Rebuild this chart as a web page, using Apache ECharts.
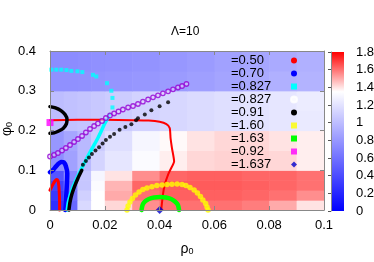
<!DOCTYPE html>
<html><head><meta charset="utf-8">
<script src="https://cdn.jsdelivr.net/npm/echarts@6/dist/echarts.min.js"></script>
<style>html,body{margin:0;padding:0;background:#fff}#c{width:374px;height:262px}</style>
</head><body><div id="c"></div>
<script>
// ---- background map (values read from the colour field) ----
const X_EDGES = [0,0.005,0.01,0.015,0.02,0.03,0.04,0.05,0.06,0.07,0.08,0.09,0.1];
const Y_EDGES = [0,0.025,0.05,0.075,0.1,0.15,0.2,0.25,0.3,0.35,0.4];
const HEAT = [
  [0.25,0.55,1.15,1.35,1.42,1.55,1.6,1.6,1.6,1.58,1.5,1.4],
  [0.3,0.6,1.1,1.35,1.5,1.6,1.63,1.63,1.63,1.62,1.6,1.55],
  [0.35,0.65,1.05,1.33,1.48,1.62,1.64,1.64,1.64,1.63,1.62,1.6],
  [0.45,0.72,1.05,1.3,1.4,1.55,1.62,1.63,1.63,1.62,1.62,1.6],
  [0.75,0.85,0.98,1.12,1.22,1.33,1.38,1.42,1.43,1.43,1.42,1.38],
  [0.8,0.88,0.98,1.08,1.18,1.3,1.36,1.4,1.42,1.42,1.4,1.38],
  [1.0,1.02,1.04,1.06,1.08,1.11,1.14,1.16,1.18,1.2,1.22,1.24],
  [1.0,1.02,1.04,1.06,1.08,1.11,1.14,1.16,1.18,1.2,1.22,1.25],
  [0.76,0.76,0.77,0.78,0.79,0.8,0.82,0.84,0.87,0.9,0.93,0.95],
  [0.74,0.74,0.75,0.76,0.77,0.78,0.8,0.82,0.85,0.88,0.9,0.93]
];
const CB_MIN = 0, CB_MAX = 1.8;

// ---- curves ----
const LABELS = ['=0.50','=0.70','=0.827','=0.827','=0.91','=1.60','=1.63','=0.92','=1.637'];
const RED_HOOK = [[0,0.05],[0.0006,0.058],[0.0012,0.066],[0.0018,0.073],[0.0024,0.077],[0.0029,0.074],[0.0032,0.062],[0.0034,0.042],[0.0035,0.02],[0.0035,0]];
const RED_LINE = [[0,0.226],[0.01,0.227],[0.02,0.227],[0.03,0.226],[0.036,0.225],[0.04,0.222],[0.0425,0.216],[0.0437,0.206],[0.044,0.181],[0.0445,0.156],[0.0453,0.122],[0.0442,0.105],[0.0431,0.089],[0.0419,0.064],[0.0412,0.038],[0.0406,0]];
const BLUE = [[0,0.095],[0.001,0.1],[0.002,0.108],[0.003,0.116],[0.004,0.121],[0.005,0.12],[0.0058,0.11],[0.0063,0.092],[0.0062,0.07],[0.006,0.045],[0.0058,0.02],[0.0056,0]];
const CYAN_DENSE = [[0.0063,0],[0.0067,0.02],[0.0075,0.04],[0.0085,0.06],[0.0098,0.08],[0.0112,0.1],[0.0127,0.12],[0.0142,0.14],[0.0158,0.16],[0.0174,0.18],[0.0188,0.2],[0.0198,0.215],[0.0208,0.228],[0.0218,0.24]];
const CYAN_DOTS = [[0.0228,0.258],[0.0228,0.282],[0.0224,0.3],[0.0208,0.319],[0.0169,0.336],[0.0157,0.34],[0.0118,0.347],[0.01,0.349],[0.0078,0.35],[0.006,0.352],[0.0041,0.353],[0.0023,0.353],[0.0005,0.353]];
const PURPLE = [[0,0.1346],[0.0015,0.1384],[0.0029,0.1434],[0.0044,0.1497],[0.0058,0.156],[0.0073,0.1635],[0.0088,0.1711],[0.0102,0.1786],[0.0117,0.1862],[0.0131,0.195],[0.0146,0.2038],[0.0161,0.2113],[0.0175,0.2176],[0.019,0.2239],[0.0204,0.2314],[0.0219,0.2377],[0.0234,0.2428],[0.025,0.2478],[0.0266,0.2528],[0.0285,0.2579],[0.0303,0.2616],[0.0321,0.2667],[0.0339,0.2725],[0.0358,0.278],[0.0376,0.2835],[0.0394,0.2886],[0.0412,0.2936],[0.0431,0.2986],[0.0449,0.3036],[0.0467,0.3082],[0.0482,0.3119],[0.0498,0.317]];
const BLACK_ARC = [[0,0.26],[0.002,0.257],[0.004,0.25],[0.0055,0.24],[0.0062,0.228],[0.006,0.217],[0.0048,0.205],[0.003,0.198],[0.0015,0.194],[0,0.193]];
const BLACK_DENSE = [[0.0069,0],[0.0073,0.02],[0.008,0.04],[0.009,0.06],[0.0102,0.08],[0.0116,0.1]];
const BLACK_DOTS = [[0.012,0.114],[0.0131,0.123],[0.0142,0.132],[0.0153,0.141],[0.0166,0.15],[0.0179,0.158],[0.0192,0.167],[0.0204,0.176],[0.0219,0.184],[0.0234,0.191],[0.0254,0.202],[0.0275,0.209],[0.0297,0.216],[0.0314,0.226],[0.0321,0.231],[0.0346,0.24],[0.037,0.251],[0.04,0.261],[0.0431,0.271]];
const YELLOW = [[0.0281,0],[0.0285,0.01],[0.0292,0.02],[0.0301,0.029],[0.0312,0.038],[0.0325,0.045],[0.0339,0.0516],[0.0354,0.0553],[0.0372,0.0586],[0.039,0.0616],[0.0409,0.0629],[0.0427,0.0642],[0.0445,0.0649],[0.0464,0.0654],[0.0482,0.0642],[0.0496,0.0616],[0.0511,0.0566],[0.0526,0.0503],[0.0538,0.0428],[0.0549,0.034],[0.0558,0.0252],[0.0568,0.0164],[0.0573,0.0075],[0.0577,0]];
const GREEN = [[0.0334,0],[0.0338,0.0126],[0.0347,0.0214],[0.0361,0.0277],[0.038,0.0314],[0.0401,0.0327],[0.0423,0.0314],[0.0442,0.0277],[0.0456,0.0214],[0.0467,0.0126],[0.0471,0]];
const MAGENTA = [[0,0.22]];
const DIAMOND = [[0.04,0]];

const heatData = [];
for (let r = 0; r < HEAT.length; r++)
  for (let c = 0; c < HEAT[r].length; c++)
    heatData.push([X_EDGES[c], Y_EDGES[r], X_EDGES[c+1], Y_EDGES[r+1], HEAT[r][c]]);

const chart = echarts.init(document.getElementById('c'), null, {renderer:'canvas'});
const FONT = 'Liberation Sans, Arial, sans-serif';
const AX = '#888';
function mainAxis(extra){
  return Object.assign({
    type:'value', gridIndex:0, z:5,
    splitLine:{show:false},
    axisLine:{show:true, onZero:false, lineStyle:{color:AX, width:1}},
    axisTick:{show:true, inside:true, length:4, lineStyle:{color:AX}},
    axisLabel:{color:'#000', fontSize:13, fontFamily:FONT}
  }, extra);
}
const names = ['MT1','MT2','MT3','MT4','MT5','MT6','MT7','MT8','MT9'];
const nameLabel = {}; names.forEach((n,i)=>nameLabel[n]=LABELS[i]);

function line(name, data, color, width){
  return {type:'line', name, data, xAxisIndex:0, yAxisIndex:0, showSymbol:false, symbol:'none',
    clip:false, smooth:0.2, lineStyle:{color, width, cap:'round', join:'round'}, itemStyle:{color}, z:3};
}
function dots(name, data, color, symbol, size, extraStyle){
  return {type:'scatter', name, data, xAxisIndex:0, yAxisIndex:0, symbol, symbolSize:size, clip:false,
    itemStyle:Object.assign({color}, extraStyle||{}), z:4};
}

chart.setOption({
  animation:false,
  textStyle:{fontFamily:FONT},
  title:{text:'Λ=10', left:171, top:26, padding:0, textStyle:{fontSize:12, fontWeight:'normal', color:'#000', fontFamily:FONT}},
  graphic:[
    {type:'text', left:206, top:54, style:{text:'M', fontSize:14, fill:'#000', fontFamily:FONT}},
    {type:'text', left:214, top:60, style:{text:'T', fontSize:9, fill:'#000', fontFamily:FONT}},
    {type:'text', x:7, y:129, rotation:Math.PI/2,
      style:{text:'φ{s|0}', fontSize:14, fill:'#000', fontFamily:FONT, align:'center', verticalAlign:'middle',
        rich:{s:{fontSize:9, verticalAlign:'bottom', fontFamily:FONT}}}}
  ],
  grid:[
    {left:50, top:51, width:274, height:159, containLabel:false, outerBoundsMode:'none'},
    {left:331, top:52, width:13, height:159, containLabel:false, outerBoundsMode:'none'}
  ],
  visualMap:{type:'continuous', show:false, min:CB_MIN, max:CB_MAX, dimension:4, seriesIndex:0,
    inRange:{color:['#0000ff','#5555ff','#aaaaff','#ffffff','#ff0000']}},
  legend:{
    orient:'vertical', left:231, top:54, padding:0, itemGap:0, align:'right',
    itemWidth:6, itemHeight:6,
    formatter:n=>'{t|'+nameLabel[n]+'}',
    textStyle:{fontSize:13, color:'#000', fontFamily:FONT, rich:{t:{width:55, align:'left', fontSize:13, lineHeight:13, fontFamily:FONT}}},
    data:[
      {name:'MT1', icon:'circle', itemStyle:{color:'#ff0000'}},
      {name:'MT2', icon:'circle', itemStyle:{color:'#0000ff'}},
      {name:'MT3', icon:'rect', itemStyle:{color:'#00ffff'}},
      {name:'MT4', icon:'emptyCircle', itemStyle:{color:'#fff', borderColor:'#9400d3', borderWidth:1.6}},
      {name:'MT5', icon:'circle', itemStyle:{color:'#000'}},
      {name:'MT6', icon:'rect', itemStyle:{color:'#ffff00'}},
      {name:'MT7', icon:'rect', itemStyle:{color:'#00ff00'}},
      {name:'MT8', icon:'rect', itemStyle:{color:'#ff00ff'}},
      {name:'MT9', icon:'diamond', itemStyle:{color:'#0000cd'}}
    ]
  },
  xAxis:[
    mainAxis({min:0, max:0.1, interval:0.02, position:'bottom',
      axisLabel:{color:'#000', fontSize:13, fontFamily:FONT, margin:9},
      name:'ρ{s|0}', nameLocation:'middle', nameGap:32,
      nameTextStyle:{color:'#000', fontSize:14, fontFamily:FONT, rich:{s:{fontSize:9, verticalAlign:'bottom', fontFamily:FONT}}}}),
    mainAxis({min:0, max:0.1, interval:0.02, position:'top', axisLabel:{show:false}}),
    {type:'value', gridIndex:1, min:0, max:1, show:false}
  ],
  yAxis:[
    mainAxis({min:0, max:0.4, interval:0.1, position:'left',
      axisLabel:{color:'#000', fontSize:13, fontFamily:FONT, margin:14}}),
    mainAxis({min:0, max:0.4, interval:0.1, position:'right', axisLabel:{show:false}}),
    {type:'value', gridIndex:1, min:CB_MIN, max:CB_MAX, interval:0.2, position:'right', z:5,
      splitLine:{show:false},
      axisLine:{show:true, lineStyle:{color:AX}},
      axisTick:{show:true, inside:true, length:3, lineStyle:{color:'#555'}},
      axisLabel:{color:'#000', fontSize:13, fontFamily:FONT, margin:12}}
  ],
  series:[
    {type:'custom', name:'heat', xAxisIndex:0, yAxisIndex:0, z:1, silent:true,
      data:heatData, encode:{x:[0,2], y:[1,3]},
      renderItem:(params, api)=>{
        const a = api.coord([api.value(0), api.value(3)]);
        const b = api.coord([api.value(2), api.value(1)]);
        return {type:'rect', shape:{x:a[0], y:a[1], width:b[0]-a[0]+0.6, height:b[1]-a[1]+0.6},
          style:{fill:api.visual('color')}};
      }},
    {type:'custom', name:'cbar', xAxisIndex:2, yAxisIndex:2, z:1, silent:true,
      data:[[0, CB_MIN, 1, CB_MAX]], encode:{x:[0,2], y:[1,3]},
      renderItem:(params, api)=>{
        const a = api.coord([api.value(0), api.value(3)]);
        const b = api.coord([api.value(2), api.value(1)]);
        return {type:'rect', shape:{x:a[0], y:a[1], width:b[0]-a[0], height:b[1]-a[1]},
          style:{fill:new echarts.graphic.LinearGradient(0,1,0,0,[
            {offset:0, color:'#0000ff'},{offset:0.75, color:'#ffffff'},{offset:1, color:'#ff0000'}])}};
      }},
    line('MT1', RED_HOOK, '#ff0000', 3),
    line('MT1', RED_LINE, '#ff0000', 2),
    line('MT2', BLUE, '#0000ff', 4.5),
    line('MT3', CYAN_DENSE, '#00ffff', 3.5),
    dots('MT3', CYAN_DOTS, '#00ffff', 'rect', 4),
    line('MT5', BLACK_ARC, '#000000', 3.5),
    line('MT5', BLACK_DENSE, '#000000', 3.5),
    dots('MT5', BLACK_DOTS, '#000000', 'circle', 4),
    dots('MT4', PURPLE, '#ffffff', 'circle', 4.5, {borderColor:'#9400d3', borderWidth:1.3, color:'rgba(230,210,255,0.7)'}),
    dots('MT6', YELLOW, '#ffff00', 'circle', 5.5),
    line('MT7', GREEN, '#00ff00', 4.5),
    dots('MT8', MAGENTA, '#ff00ff', 'rect', 7),
    dots('MT9', DIAMOND, '#0000cd', 'diamond', 8)
  ]
});
</script></body></html>
